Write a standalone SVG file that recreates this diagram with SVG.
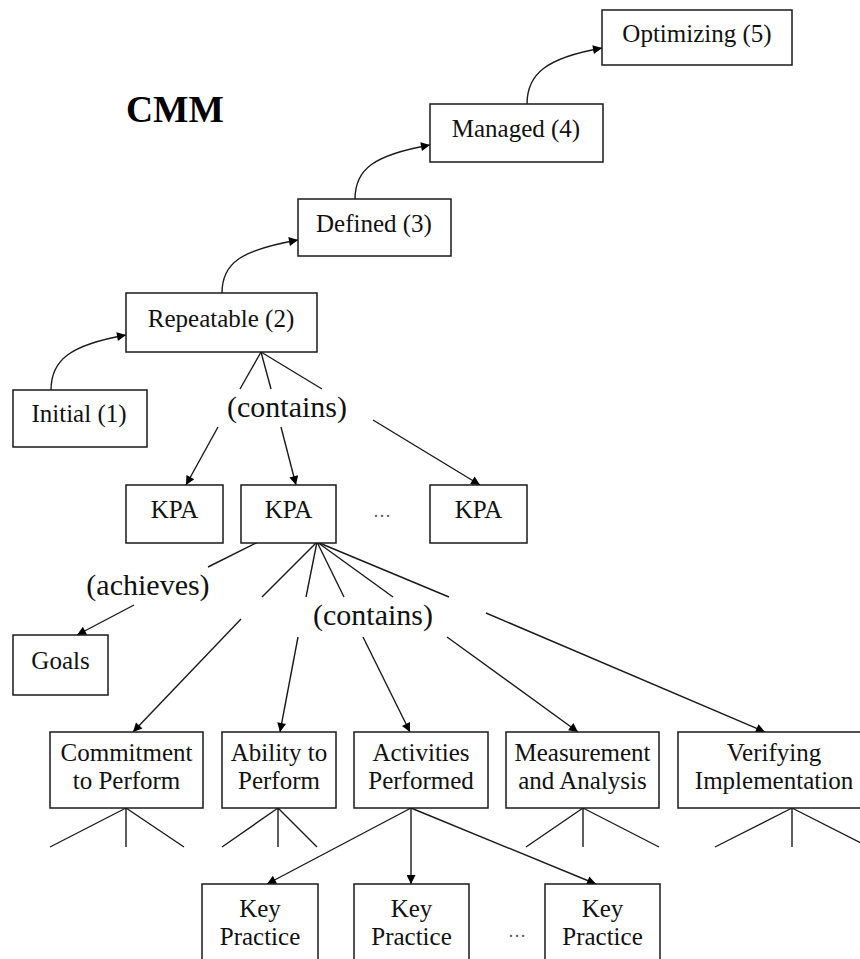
<svg xmlns="http://www.w3.org/2000/svg" width="860" height="959" viewBox="0 0 860 959">
<style>
.bx{fill:#fff;stroke:#1a1a1a;stroke-width:1.5}
.t{font-family:"Liberation Serif","Times New Roman",serif;font-size:25px;text-anchor:middle;fill:#111}
.lbl{font-family:"Liberation Serif","Times New Roman",serif;font-size:30px;text-anchor:middle;fill:#111}
.dots{font-family:"Liberation Serif","Times New Roman",serif;font-size:18px;text-anchor:middle;fill:#555}
.ln{fill:none;stroke:#1a1a1a;stroke-width:1.4}
.ar{fill:none;stroke:#1a1a1a;stroke-width:1.4;marker-end:url(#arr)}
</style>
<defs>
<marker id="arr" viewBox="0 0 10 10" refX="10" refY="5" markerWidth="11" markerHeight="9" markerUnits="userSpaceOnUse" orient="auto">
<path d="M0,0 L10,5 L0,10 z" fill="#000"/>
</marker>
</defs>
<rect width="860" height="959" fill="#fff"/>
<text x="126" y="122" style="font-family:'Liberation Serif','Times New Roman',serif;font-size:37.5px;font-weight:bold;fill:#000">CMM</text>

<g id="connectors">
<path class="ar" d="M51,390 c0,-30 19,-45 75,-55"/>
<path class="ar" d="M222,293 c0,-30 19,-43 76,-53"/>
<path class="ar" d="M355,199 c0,-30 19,-44 75,-54"/>
<path class="ar" d="M527,104 c0,-30 19,-46 75,-56"/>
<!-- Repeatable contains KPAs -->
<line class="ln" x1="261" y1="352" x2="240" y2="389"/>
<line class="ln" x1="261" y1="352" x2="271" y2="389"/>
<line class="ln" x1="261" y1="352" x2="322" y2="389"/>
<line class="ar" x1="218" y1="427" x2="186" y2="485"/>
<line class="ar" x1="281" y1="427" x2="296" y2="485"/>
<line class="ar" x1="373" y1="420" x2="480" y2="485"/>
<text class="lbl" x="287" y="417">(contains)</text>
<!-- KPA achieves goals -->
<line class="ln" x1="258" y1="542" x2="208" y2="567"/>
<line class="ar" x1="134" y1="605" x2="77" y2="635"/>
<text class="lbl" x="148" y="595">(achieves)</text>
<!-- KPA contains features -->
<line class="ln" x1="317" y1="542" x2="262" y2="597"/>
<line class="ln" x1="317" y1="542" x2="306" y2="597"/>
<line class="ln" x1="317" y1="542" x2="344" y2="597"/>
<line class="ln" x1="317" y1="542" x2="393" y2="597"/>
<line class="ln" x1="317" y1="542" x2="449" y2="597"/>
<line class="ar" x1="241" y1="619" x2="133" y2="732"/>
<line class="ar" x1="298" y1="637" x2="280" y2="732"/>
<line class="ar" x1="363" y1="637" x2="410" y2="732"/>
<line class="ar" x1="447" y1="637" x2="578" y2="732"/>
<line class="ar" x1="486" y1="613" x2="765" y2="732"/>
<text class="lbl" x="373" y="625">(contains)</text>
<!-- sub fans -->
<path class="ln" d="M126,808 L50,847 M126,808 L126,847 M126,808 L184,847"/>
<path class="ln" d="M278,808 L222,847 M278,808 L278,847 M278,808 L317,847"/>
<path class="ln" d="M583,808 L526,847 M583,808 L583,847 M583,808 L659,847"/>
<path class="ln" d="M792,808 L715,847 M792,808 L792,847 M792,808 L869,847"/>
<line class="ar" x1="411" y1="808" x2="267" y2="884"/>
<line class="ar" x1="411" y1="808" x2="411" y2="884"/>
<line class="ar" x1="411" y1="808" x2="596" y2="884"/>
</g>

<g id="optimizing"><rect class="bx" x="602" y="10" width="190" height="55"/><text class="t" x="697" y="42">Optimizing (5)</text></g>
<g id="managed"><rect class="bx" x="430" y="104" width="173" height="58"/><text class="t" x="516" y="137">Managed (4)</text></g>
<g id="defined"><rect class="bx" x="298" y="199" width="153" height="57"/><text class="t" x="374" y="232">Defined (3)</text></g>
<g id="repeatable"><rect class="bx" x="126" y="293" width="191" height="59"/><text class="t" x="221" y="327">Repeatable (2)</text></g>
<g id="initial"><rect class="bx" x="13" y="390" width="134" height="57"/><text class="t" x="79" y="422">Initial (1)</text></g>
<g id="kpa1"><rect class="bx" x="126" y="485" width="97" height="58"/><text class="t" x="174.5" y="518">KPA</text></g>
<g id="kpa2"><rect class="bx" x="241" y="485" width="95" height="58"/><text class="t" x="288.5" y="518">KPA</text></g>
<g id="kpa-ellipsis"><text class="dots" x="382" y="517">…</text></g>
<g id="kpa3"><rect class="bx" x="430" y="485" width="97" height="58"/><text class="t" x="478.5" y="518">KPA</text></g>
<g id="goals"><rect class="bx" x="13" y="635" width="95" height="60"/><text class="t" x="60.5" y="669">Goals</text></g>
<g id="commitment"><rect class="bx" x="50" y="732" width="153" height="76"/><text class="t" x="126.5" y="761">Commitment</text><text class="t" x="126.5" y="789">to Perform</text></g>
<g id="ability"><rect class="bx" x="222" y="732" width="114" height="76"/><text class="t" x="279" y="761">Ability to</text><text class="t" x="279" y="789">Perform</text></g>
<g id="activities"><rect class="bx" x="354" y="732" width="134" height="76"/><text class="t" x="421" y="761">Activities</text><text class="t" x="421" y="789">Performed</text></g>
<g id="measurement"><rect class="bx" x="506" y="732" width="153" height="76"/><text class="t" x="582.5" y="761">Measurement</text><text class="t" x="582.5" y="789">and Analysis</text></g>
<g id="verifying"><rect class="bx" x="678" y="732" width="200" height="76"/><text class="t" x="774" y="761">Verifying</text><text class="t" x="774" y="789">Implementation</text></g>
<g id="kp1"><rect class="bx" x="202" y="884" width="116" height="90"/><text class="t" x="260" y="917">Key</text><text class="t" x="260" y="945">Practice</text></g>
<g id="kp2"><rect class="bx" x="354" y="884" width="115" height="90"/><text class="t" x="411.5" y="917">Key</text><text class="t" x="411.5" y="945">Practice</text></g>
<g id="kp-ellipsis"><text class="dots" x="517" y="937">…</text></g>
<g id="kp3"><rect class="bx" x="545" y="884" width="115" height="90"/><text class="t" x="602.5" y="917">Key</text><text class="t" x="602.5" y="945">Practice</text></g>
</svg>
